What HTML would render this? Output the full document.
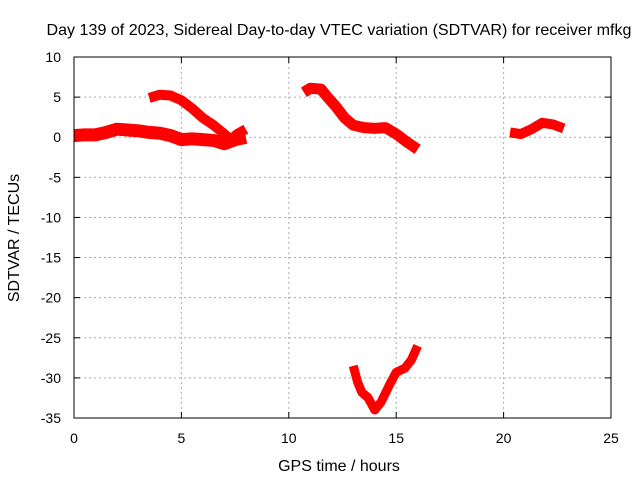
<!DOCTYPE html>
<html><head><meta charset="utf-8"><style>
body{margin:0;background:#fff}
svg text{font-family:"Liberation Sans",sans-serif;font-size:14px;fill:#000}
svg text.big{font-size:16px}
</style></head><body>
<svg id="c" width="640" height="480" xmlns="http://www.w3.org/2000/svg">
<text class="big" x="339" y="35" text-anchor="middle" textLength="585" lengthAdjust="spacingAndGlyphs">Day 139 of 2023, Sidereal Day-to-day VTEC variation (SDTVAR) for receiver mfkg</text>
<text class="big" x="339" y="471" text-anchor="middle">GPS time / hours</text>
<text class="big" transform="translate(19,238) rotate(-90)" text-anchor="middle">SDTVAR / TECUs</text>
<g id="grid"></g><g id="series"></g>
<rect x="74" y="57" width="537" height="361" fill="none" stroke="#000" stroke-width="1"/>
</svg>
<script>
const xTicks=[0,5,10,15,20,25];
const yTicks=[10,5,0,-5,-10,-15,-20,-25,-30,-35];
const segA=[[0,0.2],[0.5,0.3],[1,0.3],[1.5,0.6],[2,1.0],[2.5,0.9],[3,0.8],[3.5,0.6],[4,0.5],[4.5,0.2],[5,-0.3],[5.5,-0.2],[6,-0.3],[6.5,-0.4],[7,-0.8],[7.5,-0.3],[8,0]];
const segB=[[3.5,4.9],[4,5.3],[4.5,5.2],[5,4.6],[5.5,3.6],[6,2.4],[6.5,1.5],[7,0.4],[7.3,-0.3],[7.6,0.4],[8,1.0]];
const segC=[[10.7,5.6],[11,6.1],[11.5,6.0],[11.8,5.0],[12.2,3.8],[12.6,2.4],[13,1.5],[13.5,1.2],[14,1.1],[14.5,1.2],[15,0.4],[15.5,-0.6],[16,-1.5]];
const segD=[[13,-28.5],[13.2,-30.5],[13.4,-31.8],[13.7,-32.5],[14,-34],[14.3,-33],[14.7,-30.8],[15,-29.3],[15.4,-28.8],[15.7,-27.8],[16,-26]];
const segE=[[20.3,0.6],[20.8,0.4],[21.3,1.0],[21.8,1.8],[22.3,1.6],[22.8,1.1]];
const X=h=>74+h*(537/25);
const Y=v=>57+(10-v)*(361/45);
const NS='http://www.w3.org/2000/svg';
const svg=document.getElementById('c'),g=document.getElementById('grid'),s=document.getElementById('series');
function mk(t,a,p){const e=document.createElementNS(NS,t);for(const k in a)e.setAttribute(k,a[k]);p.appendChild(e);return e;}
xTicks.forEach(t=>{const x=X(t);
 if(t>0&&t<25){const l=mk('line',{x1:x,x2:x,y1:57,y2:418,stroke:'#aaa','stroke-dasharray':'2,3'},g);}
 mk('line',{x1:x,x2:x,y1:418,y2:412,stroke:'#000'},g);mk('line',{x1:x,x2:x,y1:57,y2:63,stroke:'#000'},g);
 const tx=mk('text',{x:x,y:443,'text-anchor':'middle'},svg);tx.textContent=t;});
yTicks.forEach(t=>{const y=Y(t);
 if(t<10&&t>-35){const l=mk('line',{x1:74,x2:611,y1:y,y2:y,stroke:'#aaa','stroke-dasharray':'2,3'},g);}
 mk('line',{x1:74,x2:80,y1:y,y2:y,stroke:'#000'},g);mk('line',{x1:611,x2:605,y1:y,y2:y,stroke:'#000'},g);
 const tx=mk('text',{x:61,y:y+5,'text-anchor':'end'},svg);tx.textContent=t;});
const widths=[13,10,11,9,10];
[segA,segB,segC,segD,segE].forEach((seg,i)=>{
 const p=mk('polyline',{points:seg.map(d=>X(d[0])+','+Y(d[1])).join(' '),fill:'none',stroke:'#f00','stroke-width':widths[i],'stroke-linejoin':'round','stroke-linecap':'butt'},s);
 
 });
</script>
</body></html>
